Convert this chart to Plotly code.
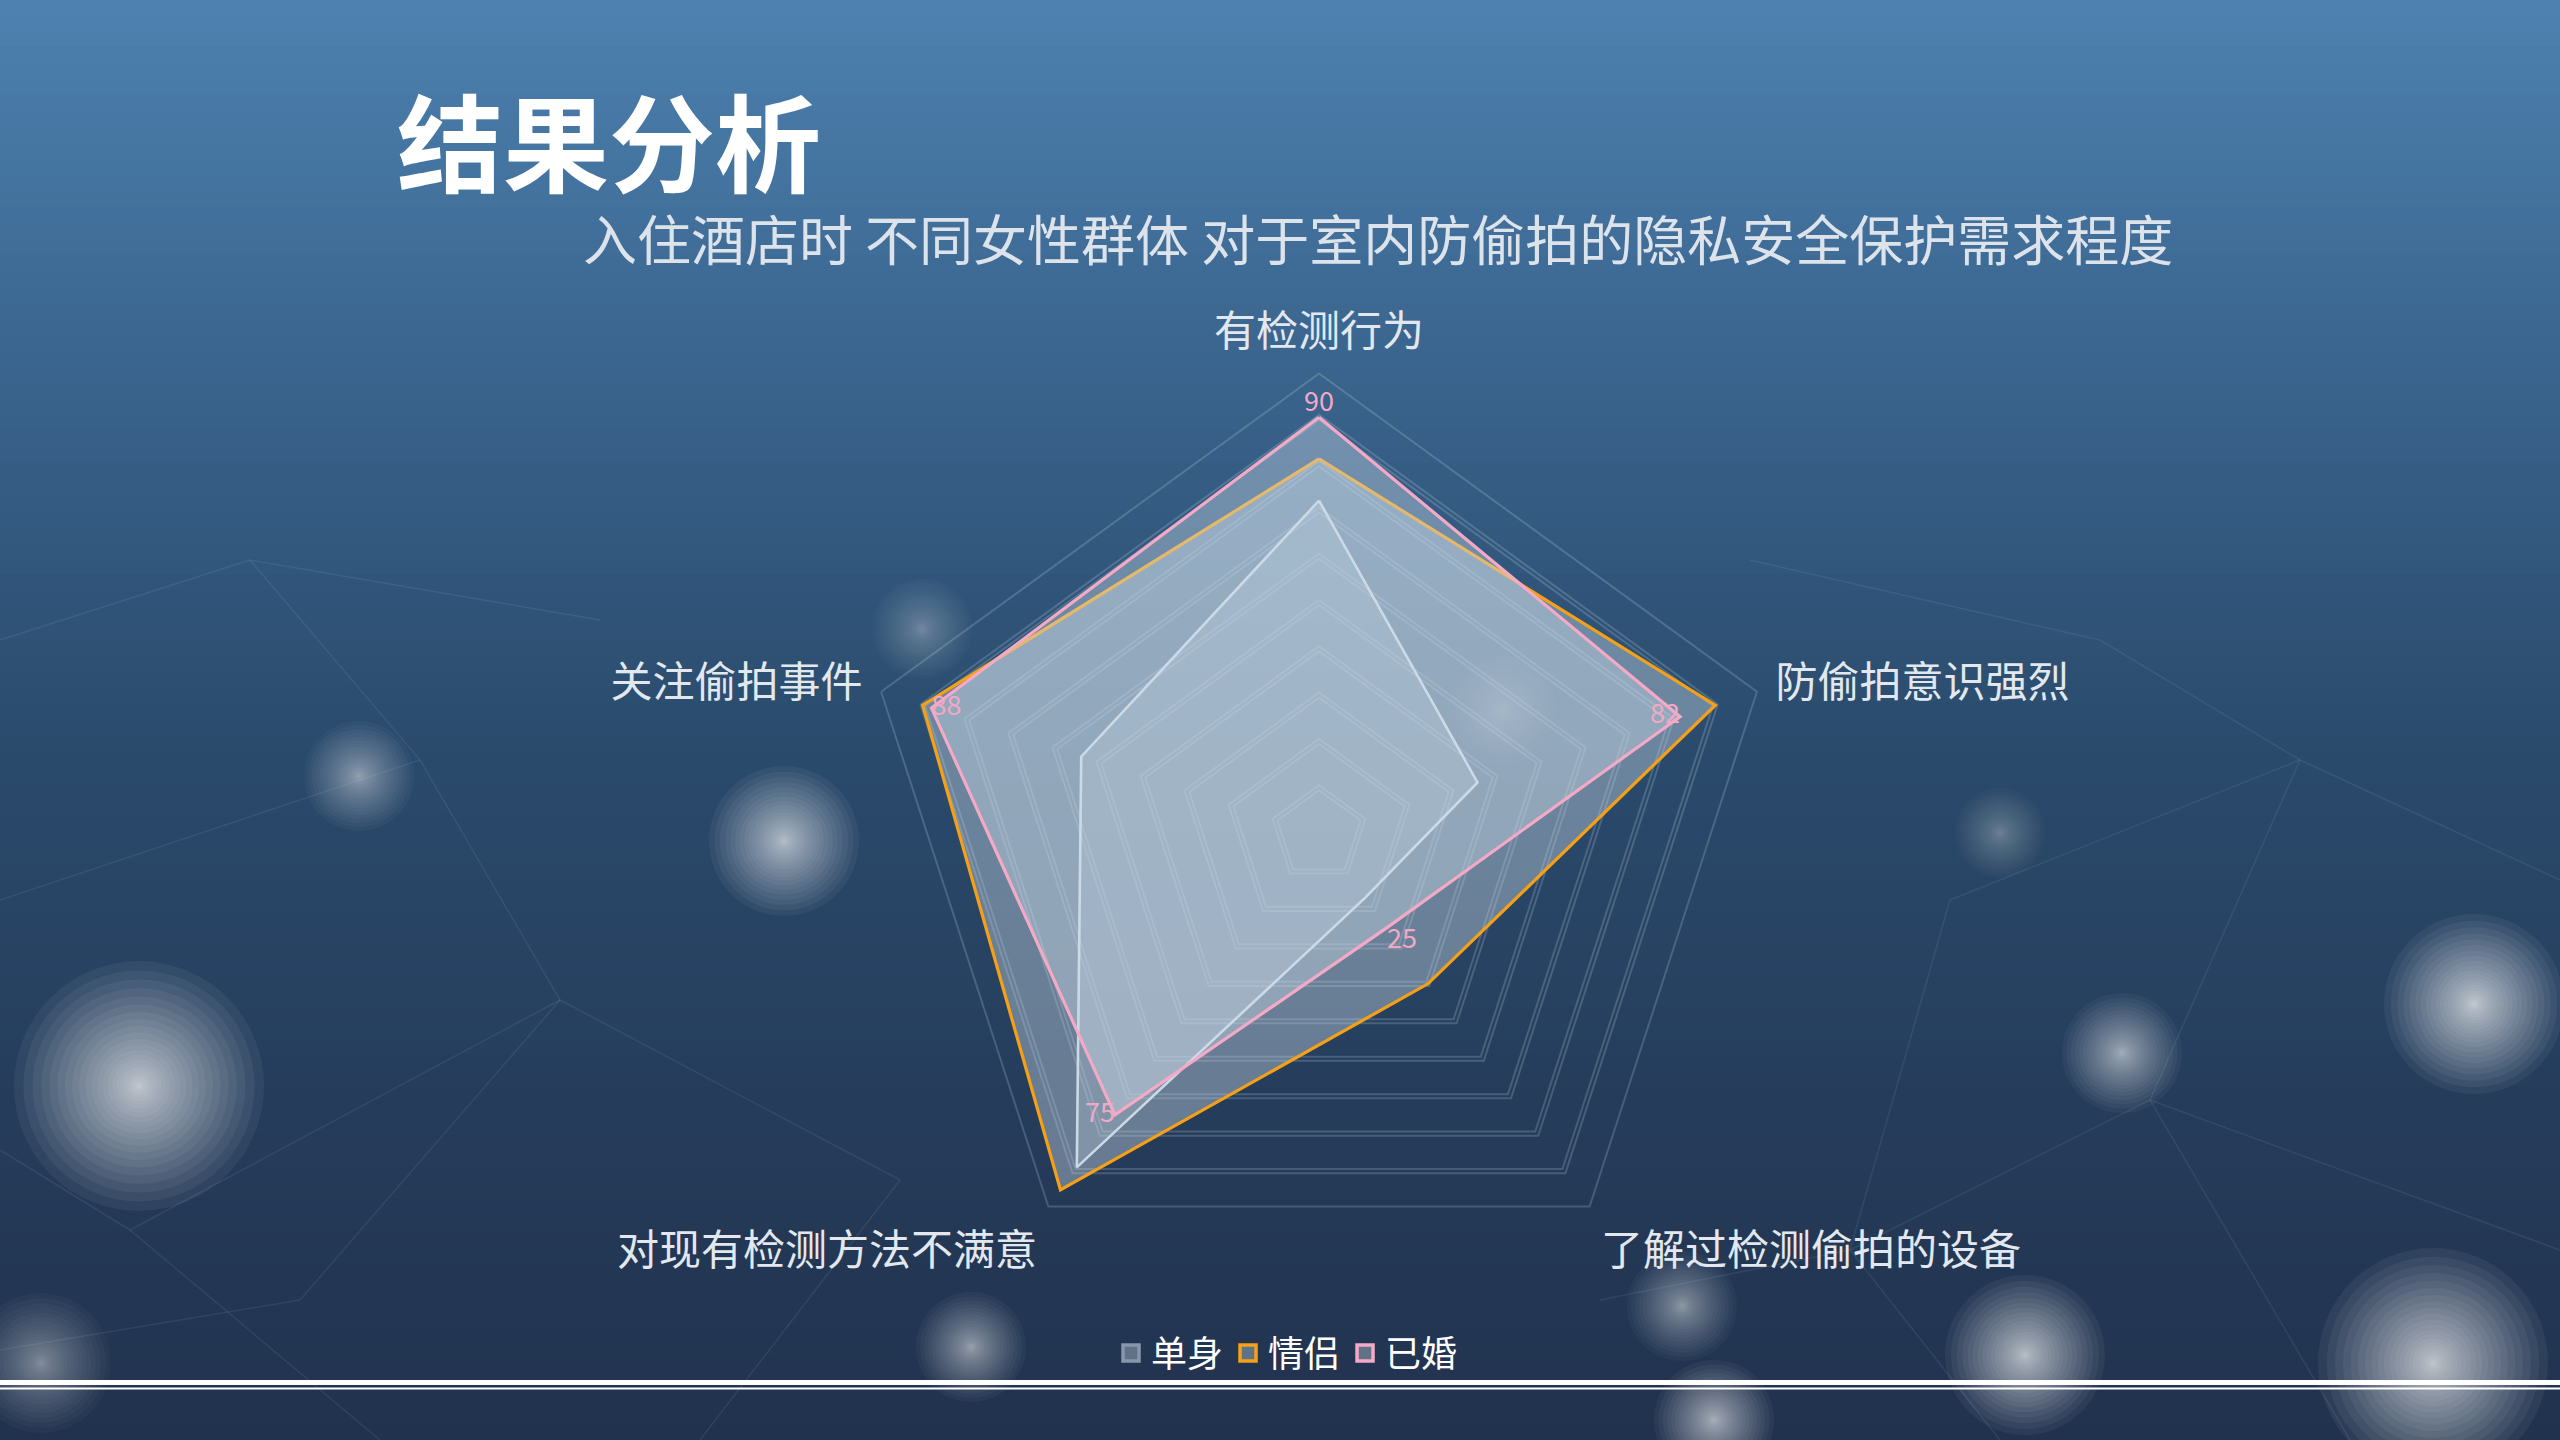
import plotly.graph_objects as go

# ---------------- data ----------------
categories = ["有检测行为", "防偷拍意识强烈", "了解过检测偷拍的设备", "对现有检测方法不满意", "关注偷拍事件"]
series_names = ["单身", "情侣", "已婚"]
single_vals = [72, 36, 17, 89, 54]
couple_vals = [81, 90, 40, 95, 90]
married_vals = [90, 82, 25, 75, 88]
married_labels = ["90", "82", "25", "75", "88"]
grid_levels = [10, 20, 30, 40, 50, 60, 70, 80, 90, 100]
title_text = "结果分析"
subtitle_text = "入住酒店时 不同女性群体 对于室内防偷拍的隐私安全保护需求程度"

# ---------------- style ----------------
W, H = 2560, 1440
FONT = "Noto Sans CJK SC"
line_colors = ["#c9d8e3", "#f5a016", "#f4a9c6"]
fill_colors = ["rgba(205,220,232,0.25)", "rgba(205,220,232,0.40)", "rgba(205,220,232,0.40)"]
legend_fill = "rgba(96,114,134,1)"

def px_x(x):
    return x / W

def px_y(y):
    return 1 - y / H

shapes = []
# vertical background gradient
stops = [(0.0, (78, 130, 176)), (0.22, (60, 104, 146)), (0.5, (43, 76, 110)),
         (0.78, (37, 60, 90)), (1.0, (33, 50, 78))]

def grad(t):
    for (t0, c0), (t1, c1) in zip(stops[:-1], stops[1:]):
        if t0 <= t <= t1:
            f = (t - t0) / (t1 - t0)
            return tuple(int(round(a + (b - a) * f)) for a, b in zip(c0, c1))
    return stops[-1][1]

NB = 90
for i in range(NB):
    t = (i + 0.5) / NB
    c = grad(t)
    shapes.append(dict(type="rect", xref="paper", yref="paper", x0=0, x1=1,
                       y0=1 - (i + 1) / NB - 0.001, y1=1 - i / NB + 0.001,
                       fillcolor="rgb(%d,%d,%d)" % c, line=dict(width=0), layer="below"))

def glow(cx, cy, r, strength, n=26, power=1.6):
    a = strength / n
    for k in range(n):
        rad = r * ((n - k) / n) ** power
        shapes.append(dict(type="circle", xref="paper", yref="paper",
                           x0=px_x(cx - rad), x1=px_x(cx + rad),
                           y0=px_y(cy + rad), y1=px_y(cy - rad),
                           fillcolor="white", opacity=a,
                           line=dict(width=0), layer="below"))

# soft light at top right
glow(1600, -250, 1000, 0.16, n=40, power=1.0)
# bokeh lights
glow(139, 1086, 125, 1.4, power=2.0)
glow(784, 841, 75, 1.2, power=2.0)
glow(359, 776, 55, 0.8, power=2.0)
glow(922, 629, 50, 0.5, power=2.0)
glow(2474, 1004, 90, 1.4, power=2.0)
glow(2122, 1053, 60, 1.0, power=2.0)
glow(2025, 1355, 80, 1.3, power=2.0)
glow(1682, 1306, 55, 0.8, power=2.0)
glow(971, 1347, 55, 0.9, power=2.0)
glow(2000, 833, 45, 0.5, power=2.0)
glow(1502, 710, 55, 0.45, power=2.0)
glow(2433, 1363, 115, 1.4, power=2.0)
glow(41, 1363, 70, 0.7, power=2.0)
glow(1714, 1420, 60, 1.1, power=2.0)

# faint network lines
net = [((0, 900), (420, 760)), ((420, 760), (560, 1000)), ((560, 1000), (130, 1230)),
       ((130, 1230), (0, 1150)), ((420, 760), (250, 560)), ((250, 560), (0, 640)),
       ((560, 1000), (900, 1180)), ((900, 1180), (700, 1440)), ((130, 1230), (380, 1440)),
       ((1950, 900), (2300, 760)), ((2300, 760), (2560, 880)), ((2300, 760), (2150, 1100)),
       ((2150, 1100), (2560, 1250)), ((2150, 1100), (1850, 1250)), ((1850, 1250), (2000, 1440)),
       ((1950, 900), (1850, 1250)), ((2150, 1100), (2350, 1440)), ((1600, 1300), (1850, 1250)),
       ((0, 1350), (300, 1300)), ((300, 1300), (560, 1000)), ((250, 560), (600, 620)),
       ((1750, 560), (2100, 640)), ((2100, 640), (2300, 760))]
for (a, b) in net:
    shapes.append(dict(type="line", xref="paper", yref="paper",
                       x0=px_x(a[0]), y0=px_y(a[1]), x1=px_x(b[0]), y1=px_y(b[1]),
                       line=dict(color="rgba(200,220,240,0.09)", width=1.5), layer="below"))

# bottom white double line
shapes.append(dict(type="line", xref="paper", yref="paper", x0=0, x1=1,
                   y0=px_y(1382.5), y1=px_y(1382.5), line=dict(color="white", width=5)))
shapes.append(dict(type="line", xref="paper", yref="paper", x0=0, x1=1,
                   y0=px_y(1388.5), y1=px_y(1388.5), line=dict(color="white", width=2)))

# ---------------- traces ----------------
fig = go.Figure()
all_vals = [single_vals, couple_vals, married_vals]
theta_closed = categories + categories[:1]
for name, vals, lc, fc in zip(series_names, all_vals, line_colors, fill_colors):
    if name == "已婚":
        kw = dict(mode="lines+text",
                  text=married_labels + [""],
                  textposition=["top center", "middle left", "bottom right", "middle left", "middle right", "middle center"],
                  textfont=dict(family=FONT, size=27, color="#f2a9c5"))
    else:
        kw = dict(mode="lines")
    fig.add_trace(go.Scatterpolar(
        r=vals + vals[:1], theta=theta_closed, name=name, fill="toself",
        fillcolor=fc, line=dict(color=lc, width=3.2 if name != "单身" else 2.6),
        showlegend=False, hoverinfo="skip", **kw))

# legend entries
for name, lc in zip(series_names, line_colors):
    fig.add_trace(go.Scatterpolar(
        r=[None], theta=[None], mode="markers", name=name,
        marker=dict(symbol="square", size=16, color=legend_fill,
                    line=dict(color=lc if name != "单身" else "#8797ab", width=3.5)),
        showlegend=True))

# doubled grid lines
grid_ticks = []
for g in grid_levels:
    grid_ticks += [g - 0.55, g + 0.55]

cx, cy, R = 1319, 834, 463
fig.update_layout(
    width=W, height=H,
    margin=dict(l=0, r=0, t=0, b=0),
    paper_bgcolor="#2b4766",
    plot_bgcolor="rgba(0,0,0,0)",
    shapes=shapes,
    font=dict(family=FONT, color="white"),
    polar=dict(
        domain=dict(x=[px_x(cx - R), px_x(cx + R)], y=[px_y(cy + R), px_y(cy - R)]),
        bgcolor="rgba(0,0,0,0)",
        gridshape="linear",
        radialaxis=dict(range=[0, 100], tickvals=grid_ticks, showticklabels=False,
                        ticks="", showline=False, gridcolor="rgba(215,228,240,0.2)",
                        gridwidth=1.5),
        angularaxis=dict(direction="clockwise", rotation=90, showgrid=False,
                         showline=False, ticks="outside", ticklen=8,
                         tickcolor="rgba(0,0,0,0)",
                         tickfont=dict(family=FONT, size=42, color="#e3e8ee")),
    ),
    legend=dict(orientation="h", x=px_x(1287), xanchor="center", y=px_y(1353),
                yanchor="middle", font=dict(family=FONT, size=36, color="white"),
                bgcolor="rgba(0,0,0,0)", itemsizing="trace"),
    title=dict(text="<b>" + title_text + "</b>", x=px_x(397), xanchor="left",
               y=px_y(147), yanchor="middle", xref="paper", yref="paper",
               font=dict(family=FONT, size=106, color="white")),
    annotations=[dict(text=subtitle_text, x=px_x(1378), y=px_y(238), xref="paper",
                      yref="paper", xanchor="center", yanchor="middle", showarrow=False,
                      font=dict(family=FONT, size=54, color="#dde3ea"))],
)

fig.write_html("out.html", config={"displayModeBar": False},
               post_script="document.body.style.margin='0';document.body.style.overflow='hidden';")
